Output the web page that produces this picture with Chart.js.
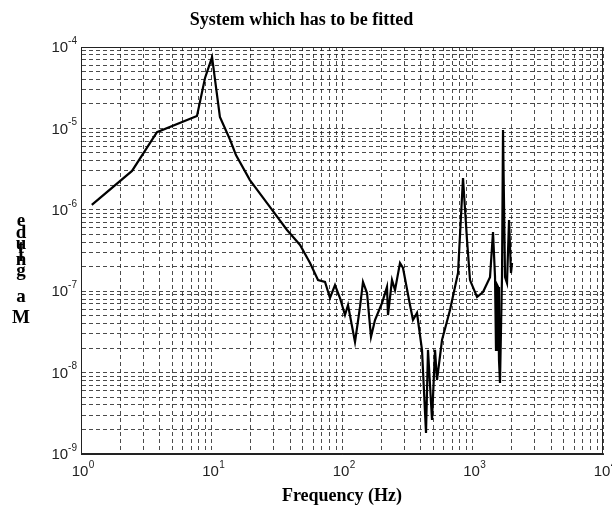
<!DOCTYPE html>
<html>
<head>
<meta charset="utf-8">
<script src="https://cdn.jsdelivr.net/npm/chart.js@4.4.0/dist/chart.umd.min.js"></script>
<style>
  html, body { margin: 0; padding: 0; background: #fff; }
</style>
</head>
<body>
<canvas id="fitplot" width="612" height="509"></canvas>
<script>
// frequency (Hz) and magnitude
var freqHz = [1.21, 2.46, 3.82, 7.74, 8.92, 10.1, 11.6, 13.9, 15.4, 19.7,
  28.1, 37.9, 47.7, 56.9, 65.5, 74.1, 80.9, 88.4, 96.5, 105.4,
  111.2, 125.8, 137.4, 144.8, 155.5, 166.8, 179.0, 202.6, 221.2, 225.1,
  241.6, 254.8, 278.2, 293.4, 331.9, 349.9, 375.5, 410.2, 440.3, 456.0,
  489.6, 516.1, 534.6, 584.0, 672.4, 774.4, 845.7, 907.9, 957, 1083,
  1204, 1362, 1436, 1488, 1514, 1540, 1569, 1596, 1624, 1683,
  1713, 1775, 1838, 1905, 1972, 2009];
var magnitude = [1.15e-6, 3.0e-6, 9.0e-6, 1.42e-5, 4.16e-5, 7.5e-5, 1.38e-5, 7.2e-6, 4.7e-6, 2.32e-6,
  1.08e-6, 5.65e-7, 3.7e-7, 2.22e-7, 1.37e-7, 1.30e-7, 8.25e-8, 1.19e-7, 8.25e-8, 5.1e-8,
  6.77e-8, 2.38e-8, 6.4e-8, 1.30e-7, 9.5e-8, 2.74e-8, 4.43e-8, 7.16e-8, 1.13e-7, 5.1e-8,
  1.37e-7, 1.03e-7, 2.22e-7, 1.93e-7, 6.77e-8, 4.43e-8, 5.4e-8, 1.9e-8, 1.81e-9, 1.9e-8,
  2.62e-9, 1.9e-8, 8.1e-9, 2.51e-8, 5.87e-8, 1.67e-7, 2.46e-6, 4.26e-7, 1.37e-7, 8.49e-8,
  9.77e-8, 1.49e-7, 5.34e-7, 1.49e-7, 1.9e-8, 1.2e-7, 1.13e-7, 1.43e-8, 7.45e-9, 1.49e-7,
  9.55e-6, 1.49e-7, 1.26e-7, 7.5e-7, 1.67e-7, 2.22e-7];

// decade ticks: base text plus exponent
var xDecades = [0, 1, 2, 3, 4];
var yDecades = [-9, -8, -7, -6, -5, -4];
var xTickExps = ['0', '1', '2', '3', '4'];
var yTickExps = ['-9', '-8', '-7', '-6', '-5', '-4'];
var tickBase = '10';

function logTicks(decades) {
  var out = [];
  for (var i = 0; i < decades.length - 1; i++) {
    for (var m = 1; m < 10; m++) out.push({value: m * Math.pow(10, decades[i])});
  }
  out.push({value: Math.pow(10, decades[decades.length - 1])});
  return out;
}

var points = freqHz.map(function (f, i) { return {x: f, y: magnitude[i]}; });

var sans = '"Liberation Sans", Arial, sans-serif';
var serif = '"Liberation Serif", "Times New Roman", serif';

// box round the plot, 10^n tick labels, stacked "Magnitude" label
var framePlugin = {
  id: 'frame',
  afterDraw: function (chart) {
    var ctx = chart.ctx, a = chart.chartArea;
    var xs = chart.scales.x, ys = chart.scales.y;
    ctx.save();
    ctx.strokeStyle = '#222';
    ctx.lineWidth = 1;
    ctx.strokeRect(a.left + 0.5, a.top + 0.5, a.right - a.left - 1, a.bottom - a.top - 1);

    ctx.fillStyle = '#222';
    ctx.textBaseline = 'middle';
    // y ticks
    yDecades.forEach(function (d, i) {
      var py = ys.getPixelForValue(Math.pow(10, d));
      ctx.font = '10px ' + sans;
      var ew = ctx.measureText(yTickExps[i]).width;
      ctx.textAlign = 'left';
      ctx.fillText(yTickExps[i], 77 - ew, py - 6);
      ctx.font = '15px ' + sans;
      ctx.textAlign = 'right';
      ctx.fillText(tickBase, 77 - ew, py + 1);
    });
    // x ticks
    xDecades.forEach(function (d, i) {
      var px = xs.getPixelForValue(Math.pow(10, d));
      ctx.font = '15px ' + sans;
      ctx.textAlign = 'center';
      ctx.fillText(tickBase, px - 1, a.bottom + 18);
      var bw = ctx.measureText(tickBase).width;
      ctx.font = '10px ' + sans;
      ctx.textAlign = 'left';
      ctx.fillText(xTickExps[i], px - 1 + bw / 2 + 0.5, a.bottom + 11);
    });

    ctx.fillStyle = '#000';
    ctx.font = 'bold 19px ' + serif;
    ctx.textAlign = 'center';
    var word = 'Magnitude';
    var ly = [318, 297, 271, 260, 256, 248, 244, 233, 221];
    for (var i = 0; i < word.length; i++) ctx.fillText(word[i], 21, ly[i]);
    ctx.restore();
  }
};

var gridStyle = {color: 'rgba(30,30,30,0.8)', lineWidth: 1, drawTicks: false};

new Chart(document.getElementById('fitplot').getContext('2d'), {
  type: 'line',
  data: {
    datasets: [{
      label: 'Magnitude',
      data: points,
      borderColor: '#000',
      borderWidth: 2.2,
      pointRadius: 0,
      tension: 0,
      fill: false
    }]
  },
  options: {
    responsive: false,
    animation: false,
    layout: {padding: {left: 0, right: 9, top: 0, bottom: 0}},
    plugins: {
      legend: {display: false},
      tooltip: {enabled: false},
      title: {
        display: true,
        text: 'System which has to be fitted',
        color: '#000',
        font: {family: serif, size: 18, weight: 'bold'},
        padding: {top: 10, bottom: 15.4}
      }
    },
    scales: {
      x: {
        type: 'logarithmic',
        min: 1,
        max: 10000,
        grid: gridStyle,
        border: {display: true, color: '#222', dash: [4, 3]},
        afterBuildTicks: function (axis) { axis.ticks = logTicks(xDecades); },
        afterFit: function (axis) { axis.height = 55; axis.paddingLeft = 0; axis.paddingRight = 0; },
        ticks: {display: false, autoSkip: false},
        title: {
          display: true,
          text: 'Frequency (Hz)',
          color: '#000',
          font: {family: serif, size: 18, weight: 'bold'},
          padding: {top: 4, bottom: 2}
        }
      },
      y: {
        type: 'logarithmic',
        min: 1e-9,
        max: 1e-4,
        grid: gridStyle,
        border: {display: true, color: '#222', dash: [4, 3]},
        afterBuildTicks: function (axis) { axis.ticks = logTicks(yDecades); },
        afterFit: function (axis) { axis.width = 81; axis.paddingTop = 0; axis.paddingBottom = 0; },
        ticks: {display: false, autoSkip: false}
      }
    }
  },
  plugins: [framePlugin]
});
</script>
</body>
</html>
